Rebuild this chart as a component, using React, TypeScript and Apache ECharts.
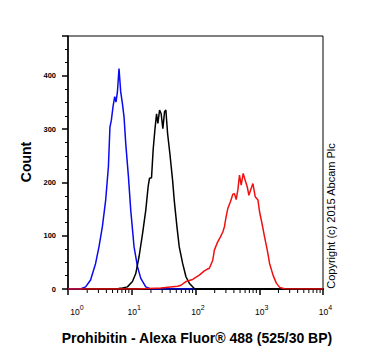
import React, { useEffect, useRef } from "react";
import * as echarts from "echarts";

const blueData: [number, number][] = [
  [1, 0], [1.57, 0], [1.89, 4], [2.26, 17], [2.71, 48], [3.06, 79], [3.46, 117], [3.9, 167],
  [4.3, 229], [4.55, 304], [4.79, 317], [5.08, 342], [5.4, 361], [5.66, 351], [5.96, 370],
  [6.31, 414], [6.71, 370], [7.14, 348], [7.57, 323], [8.05, 273], [8.87, 211], [9.64, 148],
  [10.87, 79], [12.3, 42], [13.86, 20], [16.6, 4], [19.9, 0], [100, 0],
];

const blackData: [number, number][] = [
  [4.3, 0], [6.2, 1], [7.2, 2], [8.55, 4], [10.26, 14], [11.56, 29], [13.03, 61], [14.77, 104],
  [16.6, 148], [18.07, 192], [19.0, 208], [20.43, 209], [21.65, 261], [23.03, 298], [24.49, 329],
  [25.67, 311], [27.31, 336], [28.93, 329], [30.76, 301], [32.71, 333], [34.3, 336], [36.49, 292],
  [39.66, 254], [43.74, 204], [46.37, 167], [51.13, 117], [55.61, 79], [62.87, 48], [70.85, 23],
  [79.86, 11], [95.7, 1], [122, 0],
];

const redData: [number, number][] = [
  [1, 0], [12.3, 0], [28.6, 2], [52.5, 5], [59.1, 7], [70.9, 14], [90.4, 18], [114.8, 26],
  [137.6, 34], [151.8, 37], [164.9, 39], [186.6, 54], [197.7, 73], [218.1, 86], [246, 98],
  [268.2, 107], [284.4, 117], [302.2, 136], [321.1, 151], [353.1, 164], [385.3, 178], [408.6, 179],
  [434.3, 168], [461.7, 186], [489.9, 214], [520.7, 195], [560.3, 217], [602.2, 204], [647.6, 192],
  [688.1, 176], [748.1, 189], [795.6, 198], [865.3, 173], [954.2, 167], [1011, 145], [1104, 123],
  [1211, 98], [1336, 73], [1453, 48], [1644, 26], [1853, 11], [2090, 3], [2502, 0.5], [10000, 0],
];

const xMinorTicks: number[] = [
  2, 3, 4, 5, 6, 7, 8, 9,
  20, 30, 40, 50, 60, 70, 80, 90,
  200, 300, 400, 500, 600, 700, 800, 900,
  2000, 3000, 4000, 5000, 6000, 7000, 8000, 9000,
];

const yTicks: number[] = [0, 100, 200, 300, 400];

const xTitle = "Prohibitin - Alexa Fluor® 488 (525/30 BP)";
const yTitle = "Count";
const copyright = "Copyright (c) 2015 Abcam Plc";

const FONT = "'Liberation Sans', Arial, sans-serif";

export default function App() {
  const ref = useRef<HTMLDivElement>(null);
  useEffect(() => {
    if (!ref.current) return;
    const chart = echarts.init(ref.current, null, { renderer: "svg" });
    chart.setOption({
      animation: false,
      backgroundColor: "#fff",
      textStyle: { fontFamily: FONT },
      grid: {
        left: 68,
        right: 47,
        top: 36,
        bottom: 69,
        show: true,
        borderColor: "#000",
        borderWidth: 1,
        backgroundColor: "transparent",
      },
      xAxis: {
        type: "log",
        logBase: 10,
        min: 1,
        max: 10000,
        axisLine: { show: true, lineStyle: { color: "#000", width: 2 } },
        axisTick: { show: true, length: 6, lineStyle: { color: "#000", width: 1.5 } },
        splitLine: { show: false },
        axisLabel: {
          margin: 15,
          color: "#000",
          formatter: (v: number) => {
            const e = Math.round(Math.log10(v));
            return e === 0 ? `{b0|10}{s|${e}}` : `{b|10}{s|${e}}`;
          },
          rich: {
            b: { fontSize: 8.5, fontFamily: FONT, color: "#000", padding: [0, 0, 0, 5], verticalAlign: "bottom" },
            b0: { fontSize: 8.5, fontFamily: FONT, color: "#000", padding: [0, 0, 0, 18], verticalAlign: "bottom" },
            s: { fontSize: 7, fontFamily: FONT, color: "#000", padding: [0, 0, 5, 0], verticalAlign: "bottom" },
          },
        },
      },
      yAxis: {
        type: "value",
        min: 0,
        max: 475,
        interval: 100,
        axisLine: { show: true, lineStyle: { color: "#000", width: 1.5 } },
        axisTick: { show: true, length: 6, lineStyle: { color: "#000", width: 1.5 } },
        minorTick: { show: true, splitNumber: 4, length: 3, lineStyle: { color: "#000", width: 1 } },
        splitLine: { show: false },
        axisLabel: {
          margin: 12,
          color: "#000",
          fontSize: 7.5,
          fontWeight: "bold",
          fontFamily: FONT,
          formatter: (v: number) => (yTicks.indexOf(v) >= 0 ? String(v) : ""),
        },
      },
      series: [
        {
          type: "line",
          data: blueData,
          showSymbol: false,
          lineStyle: { color: "#0a0af0", width: 1.5 },
          z: 3,
        },
        {
          type: "line",
          data: blackData,
          showSymbol: false,
          lineStyle: { color: "#000", width: 1.5 },
          z: 4,
        },
        {
          type: "line",
          data: redData,
          showSymbol: false,
          lineStyle: { color: "#f01010", width: 1.5 },
          z: 5,
        },
        {
          type: "custom",
          data: xMinorTicks.map((v) => [v, 0]),
          clip: false,
          silent: true,
          renderItem: (params: any, api: any) => {
            const p = api.coord([api.value(0), 0]);
            return {
              type: "line",
              shape: { x1: p[0], y1: p[1] + 1, x2: p[0], y2: p[1] + 4 },
              style: { stroke: "#000", lineWidth: 1 },
            };
          },
          z: 6,
        },
      ],
      graphic: [
        {
          type: "text",
          x: 26,
          y: 162,
          rotation: Math.PI / 2,
          style: {
            text: yTitle,
            font: `bold 14px ${FONT}`,
            fill: "#000",
            align: "center",
            verticalAlign: "middle",
          },
        },
        {
          type: "text",
          x: 197,
          y: 338,
          style: {
            text: xTitle,
            font: `bold 14px ${FONT}`,
            fill: "#000",
            align: "center",
            verticalAlign: "middle",
          },
        },
        {
          type: "text",
          x: 331,
          y: 216,
          rotation: Math.PI / 2,
          style: {
            text: copyright,
            font: `11px ${FONT}`,
            fill: "#000",
            align: "center",
            verticalAlign: "middle",
          },
        },
      ],
    });
    return () => chart.dispose();
  }, []);
  return <div ref={ref} style={{ width: 370, height: 358, position: "absolute", left: 0, top: 0 }} />;
}
